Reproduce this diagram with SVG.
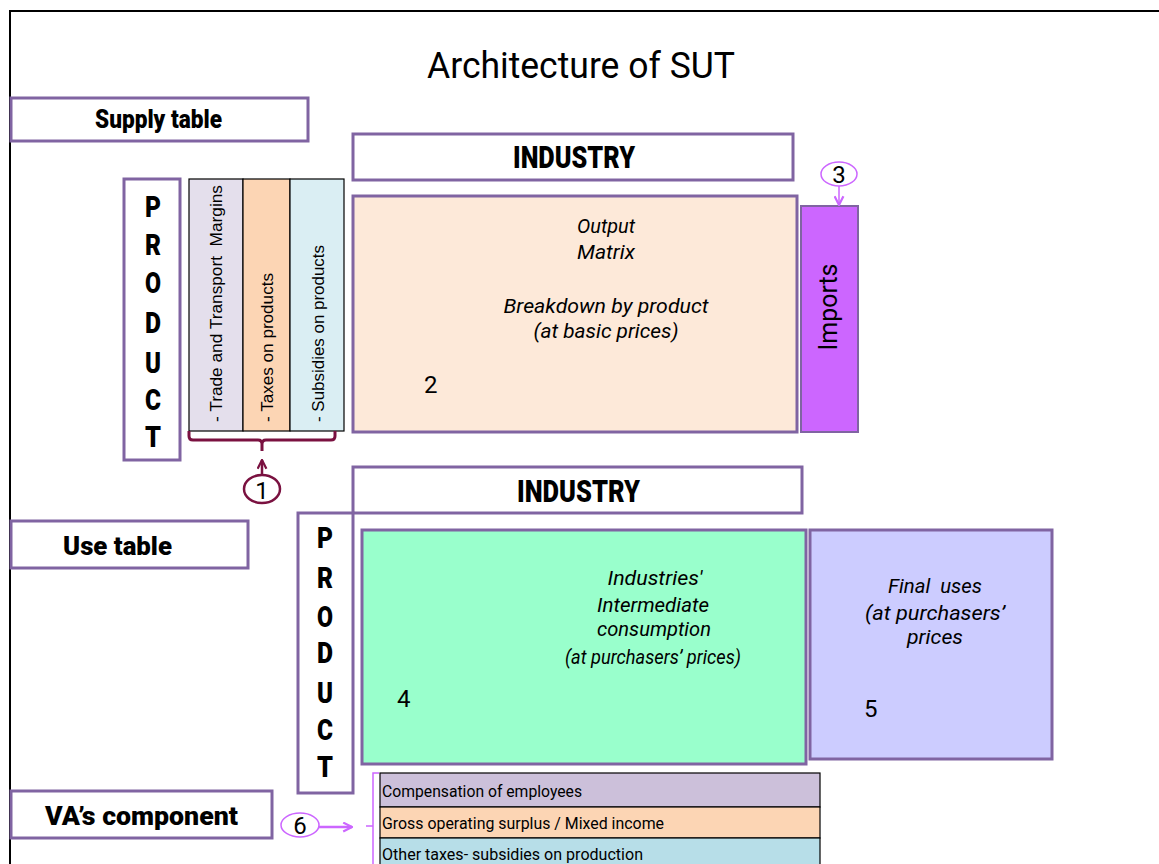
<svg xmlns="http://www.w3.org/2000/svg" width="1159" height="864" viewBox="0 0 1159 864">
  <style>
    .box { stroke: #8064A2; stroke-width: 3; }
    .lbl { font-family: Roboto, "Liberation Sans", sans-serif; font-weight: 900; fill: #000; }
    .let { font-family: Roboto, "Liberation Sans", sans-serif; font-weight: 900; font-size: 30px; text-anchor: middle; fill: #000; }
    .it { font-family: Roboto, "Liberation Sans", sans-serif; font-style: italic; font-size: 20px; text-anchor: middle; fill: #000; white-space: pre; }
    .num { font-family: Roboto, "Liberation Sans", sans-serif; font-size: 24px; fill: #000; }
    .col { font-family: "Liberation Sans", Arial, sans-serif; font-size: 17px; fill: #000; white-space: pre; }
    .row { font-family: Roboto, "Liberation Sans", sans-serif; font-size: 16px; fill: #000; }
    .thin { stroke: #000; stroke-width: 1.2; }
  </style>
  <defs>
    <marker id="arrMaroon" viewBox="0 0 10 10" refX="9" refY="5" markerWidth="11" markerHeight="11" markerUnits="userSpaceOnUse" orient="auto">
      <path d="M1,1 L9,5 L1,9" fill="none" stroke="#7A1140" stroke-width="2"/>
    </marker>
    <marker id="arrLilac" viewBox="0 0 10 10" refX="9" refY="5" markerWidth="11" markerHeight="11" markerUnits="userSpaceOnUse" orient="auto">
      <path d="M1,1 L9,5 L1,9" fill="none" stroke="#CC66FF" stroke-width="2"/>
    </marker>
  </defs>

  <rect width="1159" height="864" fill="#FFFFFF"/>
  <!-- slide frame -->
  <path d="M10,864 V11 H1159" fill="none" stroke="#000" stroke-width="2"/>

  <text x="581" y="78" font-family="Roboto, 'Liberation Sans', sans-serif" font-size="36" text-anchor="middle" textLength="308" lengthAdjust="spacingAndGlyphs">Architecture of SUT</text>

  <!-- Supply table -->
  <g id="supply-label">
    <rect class="box" x="11" y="98" width="297" height="43" fill="#FFFFFF"/>
    <text class="lbl" x="95" y="128" font-size="25" textLength="127" lengthAdjust="spacingAndGlyphs">Supply table</text>
  </g>

  <g id="industry-supply">
    <rect class="box" x="353" y="134" width="440" height="46" fill="#FFFFFF"/>
    <text class="lbl" x="513" y="168" font-size="31" textLength="122" lengthAdjust="spacingAndGlyphs">INDUSTRY</text>
  </g>

  <g id="product-supply">
    <rect class="box" x="124" y="179" width="56" height="281" fill="#FFFFFF"/>
    <text class="let" x="153" y="217" textLength="16" lengthAdjust="spacingAndGlyphs">P</text>
    <text class="let" x="153" y="255" textLength="16" lengthAdjust="spacingAndGlyphs">R</text>
    <text class="let" x="153" y="293" textLength="16" lengthAdjust="spacingAndGlyphs">O</text>
    <text class="let" x="153" y="333" textLength="16" lengthAdjust="spacingAndGlyphs">D</text>
    <text class="let" x="153" y="373" textLength="16" lengthAdjust="spacingAndGlyphs">U</text>
    <text class="let" x="153" y="410" textLength="16" lengthAdjust="spacingAndGlyphs">C</text>
    <text class="let" x="153" y="447" textLength="16" lengthAdjust="spacingAndGlyphs">T</text>
  </g>

  <g id="margins-taxes-subsidies">
    <rect class="thin" x="189" y="179" width="54" height="252" fill="#E4DFEC"/>
    <rect class="thin" x="243" y="179" width="47" height="252" fill="#FCD5B4"/>
    <rect class="thin" x="290" y="179" width="54" height="252" fill="#DAEEF3"/>
    <text class="col" transform="translate(222,422) rotate(-90)" textLength="237" lengthAdjust="spacingAndGlyphs">- Trade and Transport  Margins</text>
    <text class="col" transform="translate(273,422) rotate(-90)" textLength="149" lengthAdjust="spacingAndGlyphs">- Taxes on products</text>
    <text class="col" transform="translate(324,422) rotate(-90)" textLength="177" lengthAdjust="spacingAndGlyphs">- Subsidies on products</text>
  </g>

  <g id="output-matrix">
    <rect class="box" x="353" y="196" width="444" height="236" fill="#FDE9D9"/>
    <text class="it" x="606" y="233" textLength="58" lengthAdjust="spacingAndGlyphs">Output</text>
    <text class="it" x="606" y="259" textLength="58" lengthAdjust="spacingAndGlyphs">Matrix</text>
    <text class="it" x="606" y="313" textLength="205" lengthAdjust="spacingAndGlyphs">Breakdown by product</text>
    <text class="it" x="606" y="338" textLength="145" lengthAdjust="spacingAndGlyphs">(at basic prices)</text>
    <text class="num" x="424" y="393">2</text>
  </g>

  <g id="imports">
    <rect x="801" y="206" width="57" height="226" fill="#CC66FF" stroke="#8064A2" stroke-width="2"/>
    <text transform="translate(837,307) rotate(-90)" font-family="Roboto, 'Liberation Sans', sans-serif" font-size="25" text-anchor="middle" textLength="87" lengthAdjust="spacingAndGlyphs">Imports</text>
  </g>

  <g id="marker-1">
    <ellipse cx="262" cy="489" rx="18" ry="14" fill="#FFFFFF" stroke="#7A1140" stroke-width="2.5"/>
    <text class="num" x="262" y="499" text-anchor="middle" font-size="27">1</text>
  </g>

  <g id="marker-3">
    <ellipse cx="839" cy="174" rx="18" ry="12" fill="#FFFFFF" stroke="#CC66FF" stroke-width="1.5"/>
    <text class="num" x="839" y="183" text-anchor="middle" font-size="23">3</text>
  </g>

  <!-- Use table -->
  <g id="use-label">
    <rect class="box" x="11" y="521" width="237" height="47" fill="#FFFFFF"/>
    <text class="lbl" x="63" y="555" font-size="26" textLength="109" lengthAdjust="spacingAndGlyphs">Use table</text>
  </g>

  <g id="industry-use">
    <rect class="box" x="353" y="467" width="449" height="46" fill="#FFFFFF"/>
    <text class="lbl" x="517" y="502" font-size="31" textLength="123" lengthAdjust="spacingAndGlyphs">INDUSTRY</text>
  </g>

  <g id="product-use">
    <rect class="box" x="298" y="513" width="55" height="280" fill="#FFFFFF"/>
    <text class="let" x="325" y="548" textLength="16" lengthAdjust="spacingAndGlyphs">P</text>
    <text class="let" x="325" y="588" textLength="16" lengthAdjust="spacingAndGlyphs">R</text>
    <text class="let" x="325" y="627" textLength="16" lengthAdjust="spacingAndGlyphs">O</text>
    <text class="let" x="325" y="663" textLength="16" lengthAdjust="spacingAndGlyphs">D</text>
    <text class="let" x="325" y="703" textLength="16" lengthAdjust="spacingAndGlyphs">U</text>
    <text class="let" x="325" y="740" textLength="16" lengthAdjust="spacingAndGlyphs">C</text>
    <text class="let" x="325" y="777" textLength="16" lengthAdjust="spacingAndGlyphs">T</text>
  </g>

  <g id="intermediate-consumption">
    <rect class="box" x="362" y="530" width="444" height="234" fill="#99FFCC"/>
    <text class="it" x="655" y="585" textLength="95" lengthAdjust="spacingAndGlyphs">Industries'</text>
    <text class="it" x="653" y="612" textLength="112" lengthAdjust="spacingAndGlyphs">Intermediate</text>
    <text class="it" x="654" y="636" textLength="114" lengthAdjust="spacingAndGlyphs">consumption</text>
    <text class="it" x="653" y="664" font-size="16" textLength="176" lengthAdjust="spacingAndGlyphs">(at purchasers’ prices)</text>
    <text class="num" x="397" y="707">4</text>
  </g>

  <g id="final-uses">
    <rect class="box" x="810" y="530" width="242" height="229" fill="#CCCCFF"/>
    <text class="it" x="935" y="593" textLength="94" lengthAdjust="spacingAndGlyphs">Final  uses</text>
    <text class="it" x="935" y="620" textLength="140" lengthAdjust="spacingAndGlyphs">(at purchasers’</text>
    <text class="it" x="935" y="644" textLength="56" lengthAdjust="spacingAndGlyphs">prices</text>
    <text class="num" x="864" y="717">5</text>
  </g>

  <!-- Value added -->
  <g id="va-label">
    <rect class="box" x="11" y="791" width="261" height="47" fill="#FFFFFF"/>
    <text class="lbl" x="45" y="825" font-size="26" textLength="193" lengthAdjust="spacingAndGlyphs">VA’s component</text>
  </g>

  <g id="va-rows">
    <rect class="thin" x="380" y="773" width="440" height="34" fill="#CCC0DA"/>
    <rect class="thin" x="380" y="807" width="440" height="31" fill="#FCD5B4"/>
    <rect class="thin" x="380" y="838" width="440" height="30" fill="#B7DEE8"/>
    <text class="row" x="382" y="797" textLength="200" lengthAdjust="spacingAndGlyphs">Compensation of employees</text>
    <text class="row" x="382" y="829" textLength="282" lengthAdjust="spacingAndGlyphs">Gross operating surplus / Mixed income</text>
    <text class="row" x="382" y="860" textLength="261" lengthAdjust="spacingAndGlyphs">Other taxes- subsidies on production</text>
  </g>

  <g id="marker-6">
    <ellipse cx="300" cy="825" rx="19" ry="12" fill="#FFFFFF" stroke="#CC66FF" stroke-width="1.5"/>
    <text class="num" x="300" y="834" text-anchor="middle" font-size="24">6</text>
  </g>

  <!-- connectors -->
  <g id="connectors" fill="none">
    <path d="M189,431 V436 Q189,440 193,440 H258 Q262,440 262,444 V451 M262,444 Q262,440 266,440 H331 Q335,440 335,436 V431" stroke="#7A1140" stroke-width="3"/>
    <line x1="262" y1="475" x2="262" y2="460" stroke="#7A1140" stroke-width="2.5" marker-end="url(#arrMaroon)"/>
    <line x1="839" y1="186" x2="839" y2="205" stroke="#CC66FF" stroke-width="1.5" marker-end="url(#arrLilac)"/>
    <line x1="319" y1="827" x2="352" y2="827" stroke="#CC66FF" stroke-width="2.5" marker-end="url(#arrLilac)"/>
    <path d="M379,773 H373 V864 M373,826 H366" stroke="#CC66FF" stroke-width="1.5"/>
  </g>
</svg>
